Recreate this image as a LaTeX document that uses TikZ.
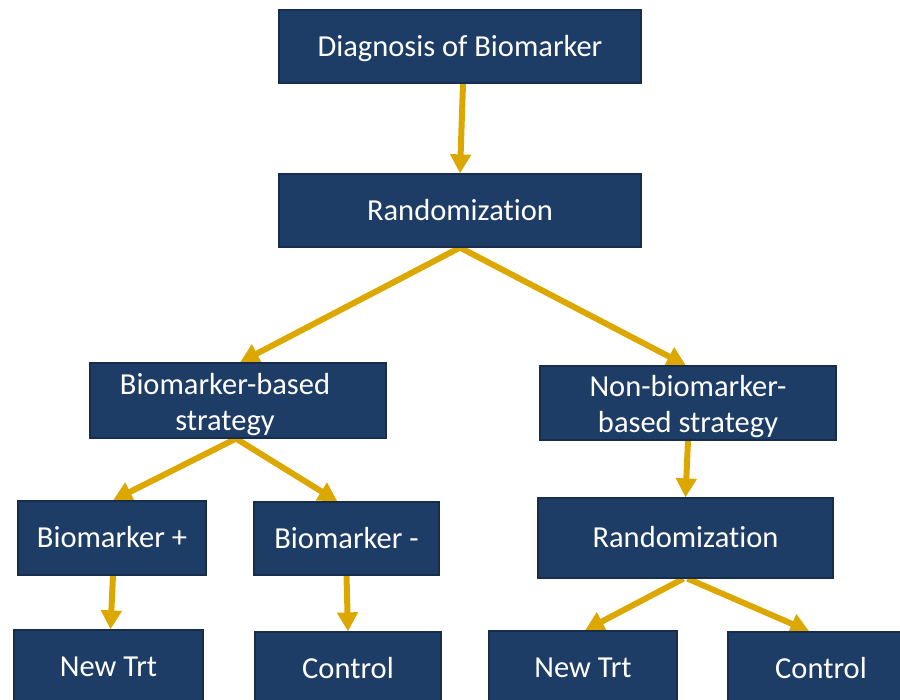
\documentclass[tikz,border=0pt]{standalone}
\usepackage{fontspec}
\setmainfont[Ligatures=NoCommon]{Carlito}
\usetikzlibrary{arrows.meta,calc,backgrounds}
\definecolor{boxblue}{RGB}{30,61,102}
\definecolor{boxedge}{RGB}{22,45,78}
\definecolor{arrowgold}{RGB}{220,168,0}
\tikzset{
  box/.style={draw=boxedge, line width=1.2pt, fill=boxblue, text=white,
    font=\fontsize{30.5}{36}\selectfont, inner sep=0pt, align=center},
  onebox/.style={box, text height=19.6pt, text depth=0pt},
  flow/.style={draw=arrowgold, line width=6pt, -{Triangle[length=19pt,width=20pt]}},
}
\begin{document}
\begin{tikzpicture}[x=1pt,y=-1pt]
\useasboundingbox (0,0) rectangle (900,700);
\clip (0,0) rectangle (900,700);
\node[onebox, minimum width=362, minimum height=73] (diag) at (460,46.5) {Diagnosis of Biomarker};
\node[onebox, minimum width=362, minimum height=73] (rand1) at (460,210.5) {Randomization};
\node[box, minimum width=296, minimum height=75] (bb) at (238,400.5) {\rule{0pt}{29pt}\hspace*{-26pt}Biomarker-based\\\hspace*{-26pt}strategy};
\node[box, minimum width=296, minimum height=74] (nb) at (688,403) {\rule{0pt}{29pt}Non-biomarker-\\based strategy};
\node[onebox, minimum width=188, minimum height=74] (bp) at (112,538) {Biomarker +};
\node[onebox, minimum width=185, minimum height=73] (bm) at (346.5,538.5) {Biomarker -};
\node[onebox, minimum width=295, minimum height=80] (rand2) at (685.5,538) {Randomization};
\node[onebox, minimum width=189, minimum height=74] (nt1) at (108.5,667) {New Trt};
\node[onebox, minimum width=186, minimum height=74] (c1) at (348,669) {Control};
\node[onebox, minimum width=188, minimum height=74] (nt2) at (583,668) {New Trt};
\node[onebox, minimum width=186, minimum height=74] (c2) at (821,669) {Control};
\begin{scope}[on background layer]
\draw[flow] ($(diag.south)+(3,0)$) -- (rand1.north);
\draw[flow] (rand1.south) -- ($(bb.north)+(2,0)$);
\draw[flow] (rand1.south) -- ($(nb.north)+(-2,0)$);
\draw[flow] ($(bb.south)+(-2,0)$) -- ($(bp.north)+(1,0)$);
\draw[flow] ($(bb.south)+(-2,0)$) -- ($(bm.north)+(-9,0)$);
\draw[flow] ($(bp.south)+(1,0)$) -- ($(nt1.north)+(2,0)$);
\draw[flow] (bm.south) -- (c1.north);
\draw[flow] (nb.south) -- (rand2.north);
\draw[flow] ($(rand2.south)+(-2,0)$) -- ($(nt2.north)+(2,0)$);
\draw[flow] ($(rand2.south)+(2,0)$) -- ($(c2.north west)+(82,0)$);
\end{scope}
\end{tikzpicture}
\end{document}
